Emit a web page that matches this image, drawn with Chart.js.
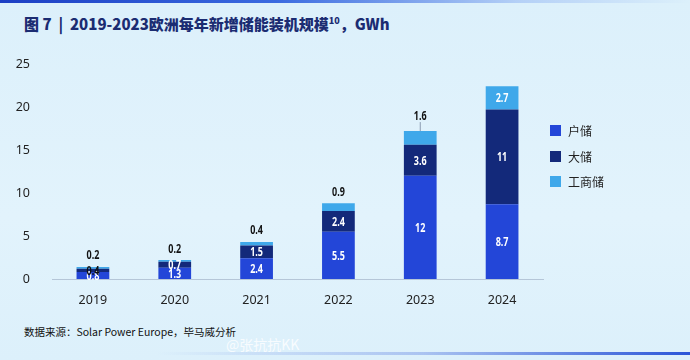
<!DOCTYPE html>
<html>
<head>
<meta charset="utf-8">
<script src="https://cdn.jsdelivr.net/npm/chart.js@4.4.1/dist/chart.umd.min.js"></script>
<style>
  html, body { margin: 0; padding: 0; }
  body {
    width: 690px; height: 360px; overflow: hidden; position: relative;
    background: linear-gradient(180deg, #dcf0fb 0%, #e2f3fc 60%, #dcf0fb 100%);
    font-family: "Noto Sans", "Noto Sans CJK SC", sans-serif;
  }
  .topbar {
    position: absolute; left: 0; top: 0; width: 690px; height: 3px;
    background: linear-gradient(90deg, #1c3fc4 0%, #3a6ae0 40%, rgba(120,160,240,0.4) 75%, rgba(200,225,250,0) 100%);
  }
  .bottombar {
    position: absolute; left: 157px; top: 352px; width: 533px; height: 3px;
    background: linear-gradient(90deg, rgba(120,150,230,0) 0%, rgba(120,150,230,0.5) 50%, #2a55d8 100%);
  }
  .title {
    position: absolute; left: 24px; top: 13px;
    font-family: "Noto Sans CJK SC", "Noto Sans", sans-serif;
    font-weight: 900; font-size: 15px; color: #1b2c72; white-space: nowrap;
  }
  .title sup { font-size: 9px; }
  .legend { position: absolute; left: 550px; top: 118px; font-family: "Noto Sans CJK SC", sans-serif; font-size: 12px; color: #222; }
  .legend div { height: 25.5px; display: flex; align-items: center; }
  .legend span.sw { display: inline-block; width: 11px; height: 11px; margin-right: 7px; }
  .footer { position: absolute; left: 24px; top: 324px; font-family: "Noto Sans CJK SC", sans-serif; font-size: 10.5px; color: #111; }
  .wm { position: absolute; left: 226px; top: 334px; font-family: "Noto Sans CJK SC", sans-serif; font-size: 14px; color: rgba(255,255,255,0.8); }
  #wrap { position: absolute; left: 0; top: 40px; width: 560px; height: 280px; }
</style>
</head>
<body>
<div class="topbar"></div>
<div class="title">图 7 &nbsp;|&nbsp; 2019-2023欧洲每年新增储能装机规模<sup>10</sup>，GWh</div>
<div id="wrap"><canvas id="chart" width="560" height="280"></canvas></div>
<div class="legend" id="legend"></div>
<div class="footer">数据来源：Solar Power Europe，毕马威分析</div>
<div class="wm">@张抗抗KK</div>
<div class="bottombar"></div>
<script>
const years = ['2019', '2020', '2021', '2022', '2023', '2024'];
const household = [0.8, 1.3, 2.4, 5.5, 12, 8.7];
const utility = [0.4, 0.7, 1.5, 2.4, 3.6, 11];
const commercial = [0.2, 0.2, 0.4, 0.9, 1.6, 2.7];
const seriesNames = ['户储', '大储', '工商储'];
const colors = ['#2346d8', '#13297a', '#3fa8ea'];
const yTicks = [0, 5, 10, 15, 20, 25];

// legend in html
const legendEl = document.getElementById('legend');
seriesNames.forEach((n, i) => {
  const d = document.createElement('div');
  d.innerHTML = '<span class="sw" style="background:' + colors[i] + '"></span>' + n;
  legendEl.appendChild(d);
});

// narrow bold text, squeezed by hand
function narrowText(ctx, txt, x, y, color) {
  ctx.save();
  ctx.translate(x, y);
  ctx.scale(0.75, 1);
  ctx.fillStyle = color;
  ctx.fillText(txt, 0, 0);
  ctx.restore();
}

// value labels on the bars
const barLabels = {
  id: 'barLabels',
  afterDatasetsDraw(chart) {
    const ctx = chart.ctx;
    ctx.save();
    ctx.textAlign = 'center';
    ctx.textBaseline = 'middle';
    ctx.font = 'bold 12px "Noto Sans", sans-serif';
    chart.data.datasets.forEach((ds, di) => {
      const meta = chart.getDatasetMeta(di);
      meta.data.forEach((bar, i) => {
        const v = String(ds.data[i]);
        const top = Math.min(bar.y, bar.base);
        const mid = (bar.y + bar.base) / 2;
        if (di < 2) {
          narrowText(ctx, v, bar.x, mid + 1, (di === 1 && i === 0) ? '#111' : '#fff');
        } else if (ds.data[i] >= 2) {
          narrowText(ctx, v, bar.x, mid + 1, '#fff');
        } else if (ds.data[i] >= 1.5) {
          // leader line
          ctx.strokeStyle = '#8a9ab0';
          ctx.lineWidth = 1;
          ctx.beginPath();
          ctx.moveTo(bar.x, top);
          ctx.lineTo(bar.x, top - 9);
          ctx.stroke();
          narrowText(ctx, v, bar.x, top - 15, '#111');
        } else {
          narrowText(ctx, v, bar.x, top - 11, '#111');
        }
      });
    });
    ctx.restore();
  }
};

new Chart(document.getElementById('chart'), {
  type: 'bar',
  data: {
    labels: years,
    datasets: [
      { label: seriesNames[0], data: household, backgroundColor: colors[0] },
      { label: seriesNames[1], data: utility, backgroundColor: colors[1] },
      { label: seriesNames[2], data: commercial, backgroundColor: colors[2] }
    ]
  },
  options: {
    responsive: false,
    animation: false,
    layout: { padding: { left: 0, right: 17, top: 24, bottom: 0 } },
    datasets: { bar: { categoryPercentage: 0.4, barPercentage: 1 } },
    scales: {
      x: {
        stacked: true,
        afterFit: s => { s.height = 41; },
        grid: { display: false },
        border: { color: '#b5c6d8' },
        ticks: { color: '#222', font: { size: 12.5, family: 'Noto Sans' }, padding: 6 }
      },
      y: {
        stacked: true,
        min: 0, max: 25,
        afterBuildTicks: axis => { axis.ticks = yTicks.map(v => ({ value: v })); },
        afterFit: s => { s.width = 52; },
        grid: { display: false },
        border: { display: false },
        ticks: { color: '#222', font: { size: 12.5, family: 'Noto Sans' }, padding: 14 }
      }
    },
    plugins: { legend: { display: false }, tooltip: { enabled: false } }
  },
  plugins: [barLabels]
});
</script>
</body>
</html>
